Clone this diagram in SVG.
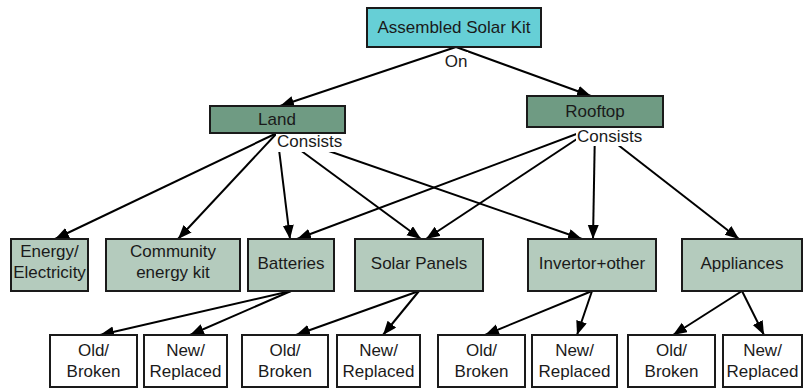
<svg xmlns="http://www.w3.org/2000/svg" width="803" height="388" viewBox="0 0 803 388">
  <style>
    text { font-family: "Liberation Sans", Arial, sans-serif; font-size: 17px; fill: #1a1a1a; text-anchor: middle; }
    .box { stroke: #1a1a1a; stroke-width: 2; }
    .root { fill: #66cfd6; }
    .place { fill: #6f9b83; }
    .part { fill: #b4cbbd; }
    .state { fill: #ffffff; }
    .edge { stroke: #000; stroke-width: 2; fill: none; marker-end: url(#arrow); }
    .lbl-bg { fill: #ffffff; }
    .lbl { text-anchor: start; }
  </style>
  <defs>
    <marker id="arrow" markerUnits="userSpaceOnUse" markerWidth="16" markerHeight="14" refX="14" refY="5.5" orient="auto">
      <path d="M0,0 L14,5.5 L0,11 Z" fill="#000"/>
    </marker>
  </defs>

  <g id="connectors">
    <!-- kit to locations -->
    <line class="edge" x1="456" y1="47" x2="280" y2="106"/>
    <line class="edge" x1="456" y1="47" x2="591" y2="96"/>
    <!-- land consists -->
    <line class="edge" x1="277" y1="133" x2="55" y2="239"/>
    <line class="edge" x1="277" y1="133" x2="178" y2="239"/>
    <line class="edge" x1="277" y1="133" x2="290" y2="239"/>
    <line class="edge" x1="277" y1="133" x2="421" y2="239"/>
    <line class="edge" x1="277" y1="133" x2="582" y2="239"/>
    <!-- rooftop consists -->
    <line class="edge" x1="595" y1="127" x2="297" y2="239"/>
    <line class="edge" x1="595" y1="127" x2="426" y2="239"/>
    <line class="edge" x1="595" y1="127" x2="593" y2="239"/>
    <line class="edge" x1="595" y1="127" x2="739" y2="239"/>
    <!-- parts to condition -->
    <line class="edge" x1="291" y1="291" x2="100" y2="335"/>
    <line class="edge" x1="291" y1="291" x2="190" y2="335"/>
    <line class="edge" x1="419" y1="291" x2="296" y2="335"/>
    <line class="edge" x1="419" y1="291" x2="383" y2="335"/>
    <line class="edge" x1="592" y1="291" x2="485" y2="335"/>
    <line class="edge" x1="592" y1="291" x2="577" y2="335"/>
    <line class="edge" x1="742" y1="291" x2="673" y2="335"/>
    <line class="edge" x1="742" y1="291" x2="764" y2="335"/>
    <!-- edge labels -->
    <rect class="lbl-bg" x="444" y="52" width="24" height="18"/>
    <text x="456" y="67">On</text>
    <rect class="lbl-bg" x="276" y="134" width="66" height="18"/>
    <text class="lbl" x="277" y="147">Consists</text>
    <rect class="lbl-bg" x="576" y="128" width="66" height="18"/>
    <text class="lbl" x="577" y="142">Consists</text>
  </g>

  <g id="assembled-solar-kit">
    <rect class="box root" x="367" y="8" width="174" height="39"/>
    <text x="454" y="33">Assembled Solar Kit</text>
  </g>

  <g id="land">
    <rect class="box place" x="210" y="106" width="135" height="27"/>
    <text x="277" y="125">Land</text>
  </g>
  <g id="rooftop">
    <rect class="box place" x="527" y="96" width="136" height="31"/>
    <text x="595" y="117">Rooftop</text>
  </g>

  <g id="energy-electricity">
    <rect class="box part" x="11" y="239" width="77" height="52"/>
    <text x="49.5" y="257">Energy/</text>
    <text x="49.5" y="278">Electricity</text>
  </g>
  <g id="community-energy-kit">
    <rect class="box part" x="106" y="239" width="134" height="52"/>
    <text x="173" y="257">Community</text>
    <text x="173" y="278">energy kit</text>
  </g>
  <g id="batteries">
    <rect class="box part" x="248" y="239" width="86" height="52"/>
    <text x="291" y="269">Batteries</text>
  </g>
  <g id="solar-panels">
    <rect class="box part" x="355" y="239" width="128" height="52"/>
    <text x="419" y="269">Solar Panels</text>
  </g>
  <g id="invertor-other">
    <rect class="box part" x="528" y="239" width="128" height="52"/>
    <text x="592" y="269">Invertor+other</text>
  </g>
  <g id="appliances">
    <rect class="box part" x="682" y="239" width="120" height="52"/>
    <text x="742" y="269">Appliances</text>
  </g>

  <g id="batteries-old">
    <rect class="box state" x="50" y="335" width="87" height="52"/>
    <text x="93.5" y="356">Old/</text>
    <text x="93.5" y="377">Broken</text>
  </g>
  <g id="batteries-new">
    <rect class="box state" x="144" y="335" width="83" height="52"/>
    <text x="185.5" y="356">New/</text>
    <text x="185.5" y="377">Replaced</text>
  </g>
  <g id="panels-old">
    <rect class="box state" x="242" y="335" width="86" height="52"/>
    <text x="285" y="356">Old/</text>
    <text x="285" y="377">Broken</text>
  </g>
  <g id="panels-new">
    <rect class="box state" x="337" y="335" width="83" height="52"/>
    <text x="378.5" y="356">New/</text>
    <text x="378.5" y="377">Replaced</text>
  </g>
  <g id="invertor-old">
    <rect class="box state" x="438" y="335" width="87" height="52"/>
    <text x="481.5" y="356">Old/</text>
    <text x="481.5" y="377">Broken</text>
  </g>
  <g id="invertor-new">
    <rect class="box state" x="532" y="335" width="85" height="52"/>
    <text x="574.5" y="356">New/</text>
    <text x="574.5" y="377">Replaced</text>
  </g>
  <g id="appliances-old">
    <rect class="box state" x="628" y="335" width="87" height="52"/>
    <text x="671.5" y="356">Old/</text>
    <text x="671.5" y="377">Broken</text>
  </g>
  <g id="appliances-new">
    <rect class="box state" x="723" y="335" width="79" height="52"/>
    <text x="762.5" y="356">New/</text>
    <text x="762.5" y="377">Replaced</text>
  </g>
</svg>
